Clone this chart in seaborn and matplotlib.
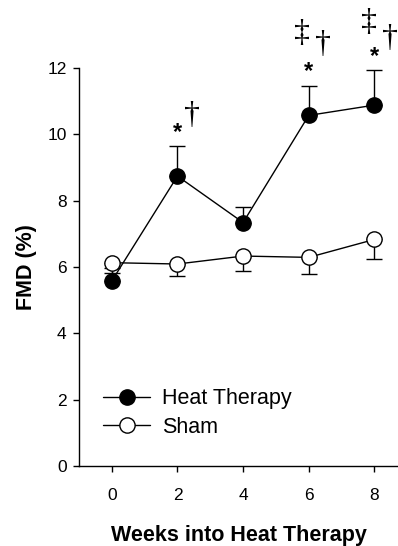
import matplotlib
matplotlib.use("Agg")
import matplotlib.pyplot as plt
import seaborn as sns
import pandas as pd

weeks = [0, 2, 4, 6, 8]
heat_fmd = [5.58, 8.74, 7.34, 10.57, 10.88]
heat_sem = [0.40, 0.91, 0.48, 0.89, 1.05]
sham_fmd = [6.13, 6.09, 6.33, 6.29, 6.83]
sham_sem = [0.30, 0.37, 0.44, 0.49, 0.58]
yticks = [0, 2, 4, 6, 8, 10, 12]
xticks = [0, 2, 4, 6, 8]

# significance markers placed in data coordinates (week, FMD)
star_marks = [(2, 10.05), (6, 11.88), (8, 12.35)]
dagger_marks = [(2.45, 10.58, "\u2020"), (6.42, 12.7, "\u2020"), (8.49, 12.9, "\u2020"),
                (5.78, 13.05, "\u2021"), (7.84, 13.37, "\u2021")]

sns.set_style("ticks")
plt.rcParams["font.family"] = ["Liberation Sans", "DejaVu Sans"]
for key in ["text.color", "axes.labelcolor", "xtick.color", "ytick.color", "axes.edgecolor"]:
    plt.rcParams[key] = "black"

fig = plt.figure(figsize=(3.98, 5.46), dpi=100)
ax = fig.add_axes([0.1985, 0.1465, 0.8015, 0.729])

df_heat = pd.DataFrame({"week": weeks, "fmd": heat_fmd})
df_sham = pd.DataFrame({"week": weeks, "fmd": sham_fmd})

# error bars: heat therapy upward, sham downward
ax.errorbar(weeks, heat_fmd, yerr=[[0] * 5, heat_sem], fmt="none", ecolor="black",
            elinewidth=1.0, capsize=5.5, capthick=1.0, zorder=2)
ax.errorbar(weeks, sham_fmd, yerr=[sham_sem, [0] * 5], fmt="none", ecolor="black",
            elinewidth=1.0, capsize=5.5, capthick=1.0, zorder=2)

sns.lineplot(data=df_sham, x="week", y="fmd", ax=ax, color="black", linewidth=1.0,
             marker="o", markersize=11, markerfacecolor="white", markeredgecolor="black",
             markeredgewidth=1.0, label="Sham", zorder=4)
sns.lineplot(data=df_heat, x="week", y="fmd", ax=ax, color="black", linewidth=1.0,
             marker="o", markersize=11, markerfacecolor="black", markeredgecolor="black",
             markeredgewidth=1.0, label="Heat Therapy", zorder=3)

for wk, y in star_marks:
    ax.text(wk, y, "*", ha="center", va="center", fontsize=17, fontweight="bold",
            clip_on=False)
for wk, y, s in dagger_marks:
    ax.text(wk, y, s, ha="center", va="center", fontsize=23,
            family=["Liberation Serif", "DejaVu Serif"], clip_on=False)

ax.set_xlim(-1.0, 8.72)
ax.set_ylim(0, 12)
ax.set_xticks(xticks)
ax.set_yticks(yticks)
ax.tick_params(axis="both", labelsize=12.5, length=4, width=1.0, direction="out", pad=5)
ax.tick_params(axis="x", pad=12)
for s in ["top", "right"]:
    ax.spines[s].set_visible(False)
for s in ["left", "bottom"]:
    ax.spines[s].set_linewidth(1.0)

ax.set_xlabel("Weeks into Heat Therapy", fontsize=15.5, fontweight="bold", labelpad=16)
ax.set_ylabel("FMD (%)", fontsize=15.5, fontweight="bold", labelpad=7.5)

handles, labels = ax.get_legend_handles_labels()
order = [labels.index("Heat Therapy"), labels.index("Sham")]
ax.legend([handles[i] for i in order], [labels[i] for i in order],
          loc="upper left", bbox_to_anchor=(0.075, 0.195), frameon=False, fontsize=15.5,
          handlelength=2.2, handletextpad=0.55, labelspacing=0.35, borderaxespad=0,
          borderpad=0)

fig.savefig("out.png", dpi=100)
